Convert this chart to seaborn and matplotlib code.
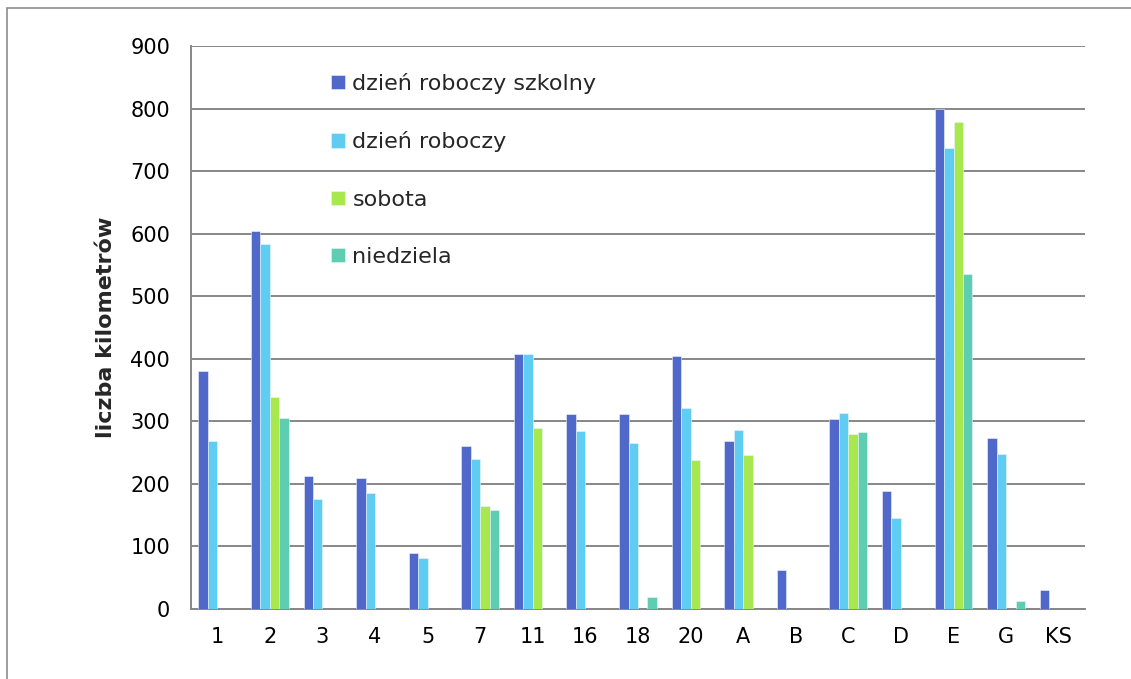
import matplotlib
matplotlib.use("Agg")
import matplotlib.pyplot as plt
import matplotlib.patches as mpatches
import numpy as np
import pandas as pd
import seaborn as sns

categories = ["1", "2", "3", "4", "5", "7", "11", "16", "18", "20", "A", "B", "C", "D", "E", "G", "KS"]
series_names = ["dzień roboczy szkolny", "dzień roboczy", "sobota", "niedziela"]
szkolny   = [380, 604, 213, 210, 89, 261, 408, 311, 311, 404, 268, 63, 304, 188, 800, 273, 30]
roboczy   = [269, 584, 176, 186, 82, 239, 408, 284, 265, 322, 286, np.nan, 314, 146, 737, 247, np.nan]
sobota    = [np.nan, 339, np.nan, np.nan, np.nan, 164, 290, np.nan, np.nan, 238, 246, np.nan, 279, np.nan, 778, np.nan, np.nan]
niedziela = [np.nan, 306, np.nan, np.nan, np.nan, 159, np.nan, np.nan, 19, np.nan, np.nan, np.nan, 283, np.nan, 535, 12, np.nan]
colors = ["#4F68C9", "#5FCCF2", "#A8E84F", "#5ECEB2"]
yticks = [0, 100, 200, 300, 400, 500, 600, 700, 800, 900]

rows = []
for name, vals in zip(series_names, [szkolny, roboczy, sobota, niedziela]):
    for c, v in zip(categories, vals):
        rows.append({"kat": c, "seria": name, "km": v})
df = pd.DataFrame(rows)

sns.set_style("white")
plt.rcParams["font.family"] = ["DejaVu Sans"]

fig = plt.figure(figsize=(11.31, 6.79), dpi=100)
ax = fig.add_axes([191/1131, 1-609/679, (1085-191)/1131, (609-46)/679])

sns.barplot(data=df, x="kat", y="km", hue="seria", order=categories,
            hue_order=series_names, palette=colors, width=0.72, saturation=1,
            edgecolor="#EEF2FF", linewidth=0.4, ax=ax, zorder=3)

gridc = "#878787"
ax.set_ylim(0, 900)
ax.set_xlim(-0.5, len(categories) - 0.5)
ax.set_yticks(yticks)
ax.yaxis.grid(True, color=gridc, linewidth=1.4, zorder=0)
ax.set_axisbelow(True)
for s in ["top", "right"]:
    ax.spines[s].set_visible(False)
for s in ["left", "bottom"]:
    ax.spines[s].set_color(gridc)
    ax.spines[s].set_linewidth(1.4)

ax.set_xticks(np.arange(len(categories)))
ax.set_xticklabels(categories)
ax.set_xticks(np.arange(len(categories) + 1) - 0.5, minor=True)
ax.tick_params(axis="x", which="major", length=0, labelsize=15, pad=13, colors="black")
ax.tick_params(axis="x", which="minor", length=7, width=1.4, color=gridc, direction="out")
ax.tick_params(axis="y", which="major", length=7, width=1.4, color=gridc, labelsize=15,
               direction="out", pad=8, labelcolor="black")
ax.set_xlabel("")
ax.set_ylabel("liczba kilometrów", fontsize=16, fontweight="bold", labelpad=10)

leg = ax.legend(loc="upper left", bbox_to_anchor=(0.157, 0.952), frameon=False,
                fontsize=16, handlelength=0.6, handleheight=0.6, labelspacing=1.68,
                handletextpad=0.35, borderaxespad=0, borderpad=0)

border = mpatches.Rectangle((7/1131, -0.2), 1.2, 1.2 - 8/679, transform=fig.transFigure,
                            fill=False, edgecolor="#8C8C8C", linewidth=1.2)
fig.patches.append(border)

fig.savefig("out.png", dpi=100)
